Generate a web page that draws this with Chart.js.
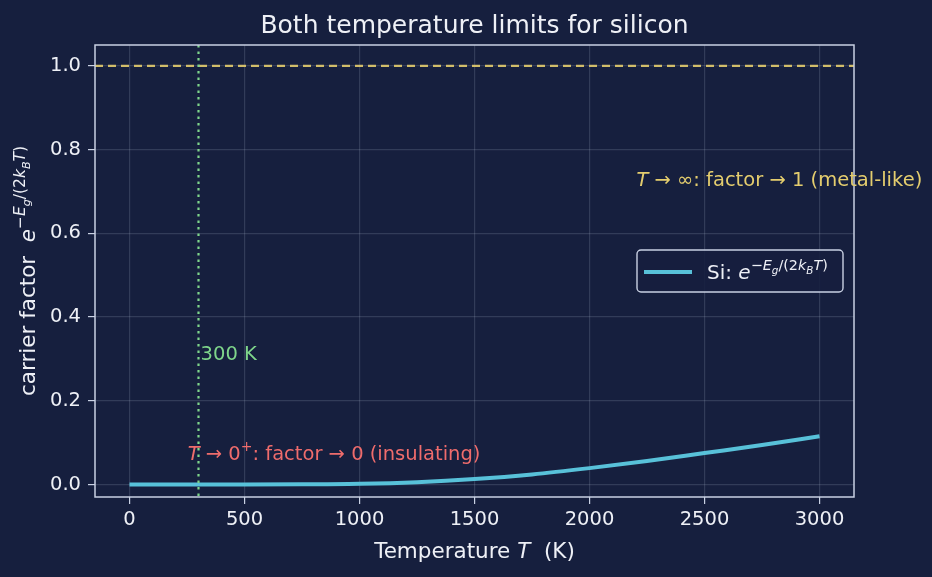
<!DOCTYPE html>
<html>
<head>
<meta charset="utf-8">
<script src="https://cdn.jsdelivr.net/npm/chart.js@4.4.1/dist/chart.umd.min.js"></script>
<style>
  html, body { margin: 0; padding: 0; background: #161f3e; }
  canvas { display: block; }
</style>
</head>
<body>
<canvas id="chart" width="932" height="577"></canvas>
<script>
// values
const temps  = [0, 250, 500, 750, 1000, 1250, 1500, 1750, 2000, 2250, 2500, 2750, 3000];
const factor = [0, 0, 0, 0.0002, 0.0015, 0.0055, 0.013, 0.024, 0.039, 0.056, 0.075, 0.094, 0.115];
const xTicks = [0, 500, 1000, 1500, 2000, 2500, 3000];
const yTicks = [0, 0.2, 0.4, 0.6, 0.8, 1.0];
const roomTemp = 300;
const upperLimit = 1.0;

const FONT = '"DejaVu Sans", sans-serif';
const FG = '#eef0f6';
const EDGE = '#c9d1e3';
const CYAN = '#58c1d9';
const GOLD = '#e4cd6e';
const GREEN = '#7fd68b';
const RED = '#ef6c6c';
const TS = 19.5;   // tick / annotation size
const LS = 21.5;   // axis label size

function fontOf(s) {
  return (s.it ? 'italic ' : '') + s.size + 'px ' + FONT;
}
function richWidth(ctx, segs) {
  let w = 0;
  segs.forEach(s => { ctx.font = fontOf(s); w += ctx.measureText(s.t).width; });
  return w;
}
function drawRich(ctx, segs, x, y, align, color) {
  const w = richWidth(ctx, segs);
  let cx = align === 'center' ? x - w / 2 : (align === 'right' ? x - w : x);
  ctx.textAlign = 'left';
  ctx.textBaseline = 'alphabetic';
  ctx.fillStyle = color;
  segs.forEach(s => {
    ctx.font = fontOf(s);
    ctx.fillText(s.t, cx, y + (s.dy || 0));
    cx += ctx.measureText(s.t).width;
  });
}
// e^{-E_g/(2 k_B T)} as segments
function expSegs(base) {
  const sz = base * 0.72, ss = base * 0.52;
  const sup = -base * 0.45, sub = -base * 0.25;
  return [
    {t: 'e', size: base, it: true},
    {t: '\u2212', size: sz, dy: sup},
    {t: 'E', size: sz, it: true, dy: sup},
    {t: 'g', size: ss, it: true, dy: sub},
    {t: '/(2', size: sz, dy: sup},
    {t: 'k', size: sz, it: true, dy: sup},
    {t: 'B', size: ss, it: true, dy: sub},
    {t: 'T', size: sz, it: true, dy: sup},
    {t: ')', size: sz, dy: sup}
  ];
}

const decorations = {
  id: 'decorations',
  beforeDatasetsDraw(chart) {
    const {ctx, chartArea: a, scales: {y}} = chart;
    ctx.save();
    // dashed line at factor = 1
    const yy = y.getPixelForValue(upperLimit);
    ctx.strokeStyle = GOLD;
    ctx.globalAlpha = 0.9;
    ctx.lineWidth = 2.2;
    ctx.setLineDash([8, 5]);
    ctx.beginPath();
    ctx.moveTo(a.left, yy);
    ctx.lineTo(a.right, yy);
    ctx.stroke();
    ctx.restore();
  },
  afterDatasetsDraw(chart) {
    const {ctx, chartArea: a, scales: {x, y}} = chart;
    ctx.save();
    // dotted line at 300 K
    const xx = x.getPixelForValue(roomTemp);
    ctx.strokeStyle = GREEN;
    ctx.lineWidth = 2.2;
    ctx.setLineDash([2.5, 4]);
    ctx.beginPath();
    ctx.moveTo(xx, a.top);
    ctx.lineTo(xx, a.bottom);
    ctx.stroke();
    ctx.setLineDash([]);

    // frame
    ctx.strokeStyle = EDGE;
    ctx.lineWidth = 1.5;
    ctx.strokeRect(a.left, a.top, a.right - a.left, a.bottom - a.top);

    // title + axis labels
    drawRich(ctx, [{t: 'Both temperature limits for silicon', size: 25}],
      (a.left + a.right) / 2, 33, 'center', FG);
    drawRich(ctx, [{t: 'Temperature ', size: LS}, {t: 'T', size: LS, it: true}, {t: '  (K)', size: LS}],
      (a.left + a.right) / 2, 558, 'center', FG);
    ctx.save();
    ctx.translate(35, (a.top + a.bottom) / 2);
    ctx.rotate(-Math.PI / 2);
    drawRich(ctx, [{t: 'carrier factor  ', size: LS}].concat(expSegs(LS)), 0, 0, 'center', FG);
    ctx.restore();

    // annotations
    drawRich(ctx, [{t: '300 K', size: TS}],
      x.getPixelForValue(309), y.getPixelForValue(0.298), 'left', GREEN);
    drawRich(ctx, [
      {t: 'T', size: TS, it: true}, {t: ' \u2192 0', size: TS}, {t: '+', size: TS * 0.72, dy: -TS * 0.45},
      {t: ': factor \u2192 0 (insulating)', size: TS}
    ], x.getPixelForValue(253), y.getPixelForValue(0.058), 'left', RED);
    drawRich(ctx, [
      {t: 'T', size: TS, it: true}, {t: ' \u2192 \u221e: factor \u2192 1 (metal-like)', size: TS}
    ], x.getPixelForValue(2204), y.getPixelForValue(0.713), 'left', GOLD);

    // legend
    const lx = 637, ly = 250, lw = 206, lh = 42;
    ctx.fillStyle = 'rgba(22,31,62,0.85)';
    ctx.strokeStyle = EDGE;
    ctx.lineWidth = 1.4;
    ctx.beginPath();
    ctx.roundRect(lx, ly, lw, lh, 4);
    ctx.fill();
    ctx.stroke();
    ctx.strokeStyle = CYAN;
    ctx.lineWidth = 4;
    ctx.beginPath();
    ctx.moveTo(644, ly + lh / 2 + 1);
    ctx.lineTo(692, ly + lh / 2 + 1);
    ctx.stroke();
    drawRich(ctx, [{t: 'Si: ', size: 20}].concat(expSegs(20)), 707, ly + lh / 2 + 8, 'left', FG);
    ctx.restore();
  }
};

const ctx = document.getElementById('chart').getContext('2d');
new Chart(ctx, {
  type: 'line',
  data: {
    datasets: [{
      label: 'Si',
      data: temps.map((t, i) => ({x: t, y: factor[i]})),
      borderColor: CYAN,
      borderWidth: 4,
      pointRadius: 0,
      cubicInterpolationMode: 'monotone',
      fill: false
    }]
  },
  options: {
    responsive: false,
    animation: false,
    layout: {padding: {left: 0, top: 45, right: 78, bottom: 0}},
    plugins: {legend: {display: false}, tooltip: {enabled: false}},
    scales: {
      x: {
        type: 'linear',
        min: -150, max: 3150,
        afterFit(s) { s.height = 80; },
        afterBuildTicks(s) { s.ticks = xTicks.map(v => ({value: v})); },
        border: {display: false},
        grid: {color: 'rgba(200,210,230,0.16)', tickColor: EDGE, tickLength: 7, lineWidth: 1.2},
        ticks: {color: FG, font: {family: FONT, size: TS}, padding: 4, maxRotation: 0,
                callback: v => String(v)}
      },
      y: {
        min: -0.03, max: 1.05,
        afterFit(s) { s.width = 95; },
        afterBuildTicks(s) { s.ticks = yTicks.map(v => ({value: v})); },
        border: {display: false},
        grid: {color: 'rgba(200,210,230,0.16)', tickColor: EDGE, tickLength: 7, lineWidth: 1.2},
        ticks: {color: FG, font: {family: FONT, size: TS}, padding: 7,
                callback: v => Number(v).toFixed(1)}
      }
    }
  },
  plugins: [decorations]
});
</script>
</body>
</html>
